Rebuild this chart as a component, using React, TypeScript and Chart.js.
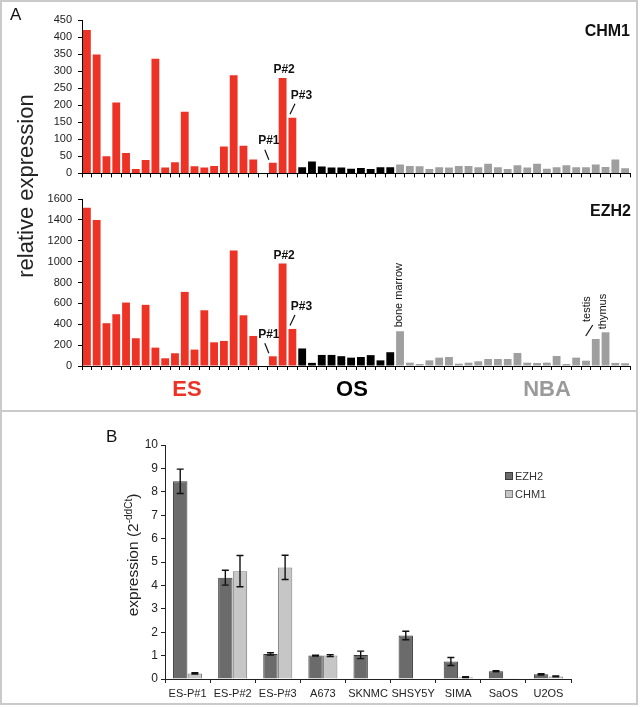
import React, { useEffect, useRef } from 'react';
import { Chart, registerables } from 'chart.js';

Chart.register(...registerables);

const FONT = '"Liberation Sans", Arial, Helvetica, sans-serif';

// ---------- Panel A data ----------
const esLabels = ['ES-1', 'ES-2', 'ES-3', 'ES-4', 'ES-5', 'ES-6', 'ES-7', 'ES-8', 'ES-9', 'ES-10', 'ES-11', 'ES-12', 'ES-13', 'ES-14', 'ES-15', 'ES-16', 'ES-17', 'ES-18', '', 'P#1', 'P#2', 'P#3'];
const osLabels = ['OS-1', 'OS-2', 'OS-3', 'OS-4', 'OS-5', 'OS-6', 'OS-7', 'OS-8', 'OS-9', 'OS-10'];
const nbaLabels = ['bone marrow', 'NBA-2', 'NBA-3', 'NBA-4', 'NBA-5', 'NBA-6', 'NBA-7', 'NBA-8', 'NBA-9', 'NBA-10', 'NBA-11', 'NBA-12', 'NBA-13', 'NBA-14', 'NBA-15', 'NBA-16', 'NBA-17', 'NBA-18', 'NBA-19', 'NBA-20', 'testis', 'thymus', 'NBA-23', 'NBA-24'];

const esCHM1 = [421, 349, 50, 208, 60, 13, 39, 336, 17, 33, 181, 21, 17, 22, 79, 288, 81, 41, null, 31, 280, 163];
const osCHM1 = [18, 35, 20, 17, 17, 14, 16, 13, 18, 18];
const nbaCHM1 = [26, 22, 21, 13, 18, 17, 22, 22, 18, 28, 18, 13, 24, 17, 28, 14, 18, 24, 18, 18, 26, 19, 41, 15];

const esEZH2 = [1517, 1398, 410, 496, 608, 266, 586, 176, 74, 122, 710, 157, 534, 227, 240, 1107, 486, 288, null, 93, 982, 355];
const osEZH2 = [168, 30, 106, 106, 94, 80, 86, 104, 54, 132];
const nbaEZH2 = [333, 32, 19, 54, 80, 86, 22, 32, 45, 67, 67, 67, 125, 32, 29, 32, 96, 19, 80, 51, 259, 323, 29, 26];

const chm1Ticks = { max: 450, step: 50 };
const ezh2Ticks = { max: 1600, step: 200 };

// ---------- Panel B data ----------
const cellLines = ['ES-P#1', 'ES-P#2', 'ES-P#3', 'A673', 'SKNMC', 'SHSY5Y', 'SIMA', 'SaOS', 'U2OS'];
const ezh2B = [8.45, 4.33, 1.07, 1.0, 1.03, 1.86, 0.75, 0.33, 0.2];
const ezh2BErr = [0.52, 0.32, 0.05, 0.02, 0.16, 0.18, 0.17, 0.02, 0.03];
const chm1B = [0.24, 4.61, 4.77, 1.0, 0.02, 0.02, 0.08, 0.03, 0.11];
const chm1BErr = [0.03, 0.67, 0.52, 0.04, 0, 0, 0.02, 0, 0.02];

// ---------- colours ----------
const RED = '#ec3326';
const BLACK = '#000000';
const GREY = '#9f9f9f';

const allLabels = [...esLabels, ...osLabels, ...nbaLabels];
const barColors = [
  ...esLabels.map(() => RED),
  ...osLabels.map(() => BLACK),
  ...nbaLabels.map(() => GREY),
];

// ---------- plugins ----------
const notesPlugin = {
  id: 'barNotes',
  afterDatasetsDraw(chart: any, _args: any, opts: any) {
    const notes = (opts && opts.notes) || [];
    const meta = chart.getDatasetMeta(0);
    const ctx = chart.ctx;
    ctx.save();
    ctx.fillStyle = '#111';
    ctx.strokeStyle = '#111';
    ctx.lineWidth = 1.2;
    notes.forEach((n: any) => {
      const idx = allLabels.indexOf(n.label);
      const el = meta.data[idx];
      if (!el) return;
      const x = el.x;
      const top = el.y;
      if (n.line) {
        ctx.beginPath();
        ctx.moveTo(x + n.line[0], top + n.line[1]);
        ctx.lineTo(x + n.line[2], top + n.line[3]);
        ctx.stroke();
      }
      ctx.font = n.font;
      if (n.rotate) {
        ctx.save();
        ctx.translate(x + n.dx, top + n.dy);
        ctx.rotate(-Math.PI / 2);
        ctx.textAlign = 'left';
        ctx.textBaseline = 'middle';
        ctx.fillText(n.label, 0, 0);
        ctx.restore();
      } else {
        ctx.textAlign = 'center';
        ctx.textBaseline = 'middle';
        ctx.fillText(n.label, x + n.dx, top + n.dy);
      }
    });
    ctx.restore();
  },
};

const errorBarPlugin = {
  id: 'errorBars',
  afterDatasetsDraw(chart: any) {
    const ctx = chart.ctx;
    const yScale = chart.scales.y;
    chart.data.datasets.forEach((ds: any, di: number) => {
      const meta = chart.getDatasetMeta(di);
      const errs = ds.errorValues || [];
      meta.data.forEach((el: any, i: number) => {
        const v = ds.data[i];
        const e = errs[i];
        if (!e) return;
        const x = el.x;
        const yt = yScale.getPixelForValue(v + e);
        const yb = yScale.getPixelForValue(Math.max(0, v - e));
        ctx.save();
        ctx.strokeStyle = '#111';
        ctx.lineWidth = 1.4;
        ctx.beginPath();
        ctx.moveTo(x, yt);
        ctx.lineTo(x, yb);
        ctx.moveTo(x - 3.5, yt);
        ctx.lineTo(x + 3.5, yt);
        ctx.moveTo(x - 3.5, yb);
        ctx.lineTo(x + 3.5, yb);
        ctx.stroke();
        ctx.restore();
      });
    });
  },
};

const pNoteFont = `bold 12px ${FONT}`;
const tissueFont = `11px ${FONT}`;

const pNotes = [
  { label: 'P#1', dx: -4, dy: -22, line: [-4, -3, -8, -13], font: pNoteFont },
  { label: 'P#2', dx: 1.5, dy: -8, font: pNoteFont },
  { label: 'P#3', dx: 9, dy: -22, line: [-2.4, -3.5, 2.6, -14], font: pNoteFont },
];

const tissueNotes = [
  { label: 'bone marrow', rotate: true, dx: -1.5, dy: -4, font: tissueFont },
  { label: 'testis', rotate: true, dx: -8.5, dy: -17, line: [-10, -3, -3, -14], font: tissueFont },
  { label: 'thymus', rotate: true, dx: -2.5, dy: -3, font: tissueFont },
];

function panelAConfig(values: (number | null)[], ticks: { max: number; step: number }, padTop: number, padBottom: number, notes: any[]) {
  return {
    type: 'bar',
    data: {
      labels: allLabels,
      datasets: [
        {
          data: values,
          backgroundColor: barColors,
          borderWidth: 0,
          barPercentage: 0.8,
          categoryPercentage: 1,
        },
      ],
    },
    options: {
      animation: false,
      responsive: false,
      maintainAspectRatio: false,
      layout: { padding: { left: 42, right: 10, top: padTop, bottom: padBottom } },
      plugins: {
        legend: { display: false },
        tooltip: { enabled: false },
        barNotes: { notes },
      },
      scales: {
        x: {
          grid: { display: true, drawOnChartArea: false, drawTicks: true, tickLength: 4, color: '#000', offset: true },
          border: { display: true, color: '#000', width: 1 },
          ticks: { display: false, autoSkip: false },
          afterFit: (a: any) => {
            a.height = 6;
          },
        },
        y: {
          min: 0,
          max: ticks.max,
          ticks: {
            stepSize: ticks.step,
            font: { family: FONT, size: 11 },
            color: '#222',
            padding: 6,
            callback: (v: any) => String(v),
          },
          grid: { display: true, drawOnChartArea: false, drawTicks: true, tickLength: 4, color: '#000' },
          border: { display: true, color: '#000', width: 1 },
          afterFit: (a: any) => {
            a.width = 40;
          },
        },
      },
    },
    plugins: [notesPlugin],
  };
}

function panelBConfig() {
  return {
    type: 'bar',
    data: {
      labels: cellLines,
      datasets: [
        {
          label: 'EZH2',
          data: ezh2B,
          errorValues: ezh2BErr,
          backgroundColor: '#6b6b6b',
          borderColor: '#3a3a3a',
          borderWidth: 1,
          barPercentage: 0.98,
          categoryPercentage: 0.65,
        },
        {
          label: 'CHM1',
          data: chm1B,
          errorValues: chm1BErr,
          backgroundColor: '#c6c6c6',
          borderColor: '#7c7c7c',
          borderWidth: 1,
          barPercentage: 0.98,
          categoryPercentage: 0.65,
        },
      ],
    },
    options: {
      animation: false,
      responsive: false,
      maintainAspectRatio: false,
      layout: { padding: { left: 125, right: 69, top: 25, bottom: 6 } },
      plugins: {
        legend: { display: false },
        tooltip: { enabled: false },
      },
      scales: {
        x: {
          grid: { display: true, drawOnChartArea: false, drawTicks: true, tickLength: 4, color: '#222', offset: true },
          border: { display: true, color: '#222', width: 1 },
          ticks: { font: { family: FONT, size: 11 }, color: '#222', padding: 4, autoSkip: false, maxRotation: 0 },
          afterFit: (a: any) => {
            a.height = 22;
          },
        },
        y: {
          min: 0,
          max: 10,
          ticks: { stepSize: 1, font: { family: FONT, size: 12 }, color: '#222', padding: 3, callback: (v: any) => String(v) },
          grid: { display: true, drawOnChartArea: false, drawTicks: true, tickLength: 4, color: '#222' },
          border: { display: true, color: '#222', width: 1 },
          afterFit: (a: any) => {
            a.width = 40;
          },
        },
      },
    },
    plugins: [errorBarPlugin],
  };
}

function ChartCanvas({ config, left, top, width, height }: { config: () => any; left: number; top: number; width: number; height: number }) {
  const ref = useRef<HTMLCanvasElement | null>(null);
  useEffect(() => {
    if (!ref.current) return;
    const chart = new Chart(ref.current, config());
    return () => chart.destroy();
  }, []);
  return (
    <canvas
      ref={ref}
      width={width}
      height={height}
      style={{ position: 'absolute', left, top, width, height }}
    />
  );
}

const textBase: React.CSSProperties = {
  position: 'absolute',
  fontFamily: FONT,
  whiteSpace: 'nowrap',
};

function CenterText({ cx, cy, children, style }: { cx: number; cy: number; children: any; style?: React.CSSProperties }) {
  return (
    <div style={{ ...textBase, left: cx - 100, top: cy - 15, width: 200, height: 30, lineHeight: '30px', textAlign: 'center', ...style }}>
      {children}
    </div>
  );
}

function RotText({ cx, cy, children, style }: { cx: number; cy: number; children: any; style?: React.CSSProperties }) {
  return (
    <div
      style={{
        ...textBase,
        left: cx - 150,
        top: cy - 15,
        width: 300,
        height: 30,
        lineHeight: '30px',
        textAlign: 'center',
        transform: 'rotate(-90deg)',
        ...style,
      }}
    >
      {children}
    </div>
  );
}

export default function App() {
  return (
    <div style={{ position: 'absolute', left: 0, top: 0, width: 640, height: 707, background: '#fff', overflow: 'hidden' }}>
      {/* frame */}
      <div style={{ position: 'absolute', left: 0, top: 0, width: 638, height: 705, border: '2px solid #cacaca', boxSizing: 'border-box' }} />
      <div style={{ position: 'absolute', left: 0, top: 410, width: 638, height: 2, background: '#cacaca' }} />

      <ChartCanvas config={() => panelAConfig([...esCHM1, ...osCHM1, ...nbaCHM1], chm1Ticks, 20, 3, pNotes)} left={0} top={0} width={640} height={186} />
      <ChartCanvas config={() => panelAConfig([...esEZH2, ...osEZH2, ...nbaEZH2], ezh2Ticks, 13, 8, [...pNotes, ...tissueNotes])} left={0} top={186} width={640} height={194} />
      <ChartCanvas config={panelBConfig} left={0} top={420} width={640} height={287} />

      {/* Panel A texts */}
      <div style={{ ...textBase, left: 10, top: 5, fontSize: 17, color: '#111' }}>A</div>
      <RotText cx={26} cy={186} style={{ fontSize: 22, color: '#222' }}>relative expression</RotText>
      <div style={{ ...textBase, right: 640 - 630, top: 22, fontSize: 16, fontWeight: 'bold', color: '#111', lineHeight: '18px' }}>CHM1</div>
      <div style={{ ...textBase, right: 640 - 631, top: 202, fontSize: 16, fontWeight: 'bold', color: '#111', lineHeight: '18px' }}>EZH2</div>
      <CenterText cx={187} cy={389} style={{ fontSize: 22, fontWeight: 'bold', color: RED }}>ES</CenterText>
      <CenterText cx={352} cy={389} style={{ fontSize: 22, fontWeight: 'bold', color: '#000' }}>OS</CenterText>
      <CenterText cx={547} cy={389} style={{ fontSize: 22, fontWeight: 'bold', color: '#9a9a9a' }}>NBA</CenterText>

      {/* Panel B texts */}
      <div style={{ ...textBase, left: 106, top: 427, fontSize: 17, color: '#111' }}>B</div>
      <RotText cx={133} cy={555} style={{ fontSize: 15.5, color: '#222' }}>
        expression (2<sup style={{ fontSize: 10, verticalAlign: 'super', lineHeight: 0 }}>-ddCt</sup>)
      </RotText>
      <div style={{ position: 'absolute', left: 505, top: 468, fontFamily: FONT, fontSize: 11, color: '#333' }}>
        <div style={{ display: 'flex', alignItems: 'center', height: 16 }}>
          <span style={{ display: 'inline-block', width: 6, height: 6, background: '#6b6b6b', border: '1px solid #3a3a3a', marginRight: 2 }} />
          EZH2
        </div>
        <div style={{ display: 'flex', alignItems: 'center', height: 16, marginTop: 2 }}>
          <span style={{ display: 'inline-block', width: 6, height: 6, background: '#c6c6c6', border: '1px solid #7c7c7c', marginRight: 2 }} />
          CHM1
        </div>
      </div>
    </div>
  );
}
